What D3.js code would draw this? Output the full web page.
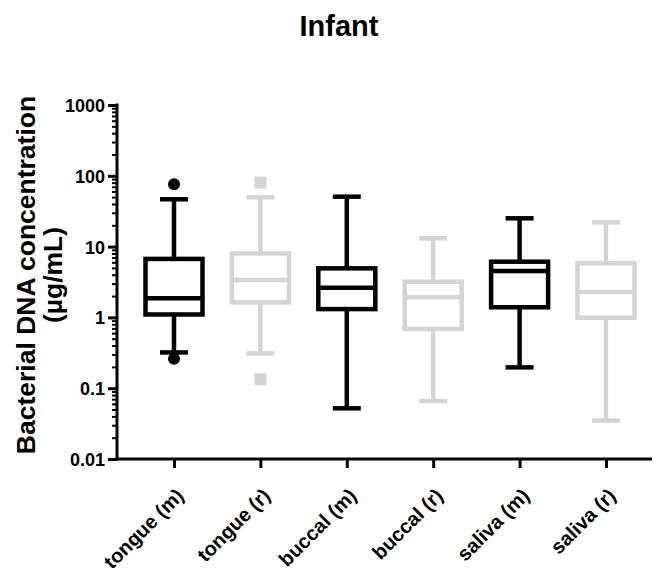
<!DOCTYPE html>
<html>
<head>
<meta charset="utf-8">
<script src="https://cdn.jsdelivr.net/npm/d3@7"></script>
<style>
  html, body { margin: 0; padding: 0; background: #fff; }
  svg text { font-family: "Liberation Sans", Arial, sans-serif; font-weight: bold; fill: #000; }
</style>
</head>
<body>
<svg id="chart" width="660" height="575"></svg>
<script>
// Sample sites (m / r) and their box-plot summaries, µg/mL
const categories = ["tongue (m)", "tongue (r)", "buccal (m)", "buccal (r)", "saliva (m)", "saliva (r)"];
const whiskerLow  = [0.32, 0.31, 0.052, 0.066, 0.197, 0.035];
const q1          = [1.10, 1.63, 1.31, 0.686, 1.39, 0.99];
const median      = [1.86, 3.37, 2.63, 1.92, 4.52, 2.28];
const q3          = [6.7, 8.0, 4.93, 3.19, 6.12, 5.81];
const whiskerHigh = [46.6, 49.7, 50.7, 13.1, 25.1, 22.0];
const outliers    = [[76, 0.26], [80, 0.134], [], [], [], []];
const seriesColor = ["#000000", "#d4d4d4", "#000000", "#d4d4d4", "#000000", "#d4d4d4"];
const markerShape = ["circle", "square", "circle", "square", "circle", "square"];

const yTickValues = [0.01, 0.1, 1, 10, 100, 1000];
const yTickLabels = ["0.01", "0.1", "1", "10", "100", "1000"];

const svg = d3.select("#chart");

const plot = { left: 117, right: 652, top: 105, bottom: 459 };

const x = d3.scalePoint().domain(categories).range([174, 606]);
const y = d3.scaleLog().domain([0.01, 1000]).range([plot.bottom, plot.top]);

// Title
svg.append("text")
  .attr("x", 339).attr("y", 36)
  .attr("text-anchor", "middle")
  .style("font-size", "29px")
  .text("Infant");

// Y axis title (two lines)
const yTitle = svg.append("text")
  .attr("transform", `translate(35, ${(plot.top + plot.bottom) / 2 - 7}) rotate(-90)`)
  .attr("text-anchor", "middle")
  .style("font-size", "26.5px");
yTitle.append("tspan").attr("x", 0).attr("dy", 0).text("Bacterial DNA concentration");
yTitle.append("tspan").attr("x", 0).attr("dy", "1.0em").text("(µg/mL)");

// Minor log ticks
const minorTicks = [];
for (let e = -2; e < 3; e++) {
  for (let m = 2; m <= 9; m++) minorTicks.push(m * Math.pow(10, e));
}
const minorAxis = svg.append("g")
  .attr("transform", `translate(${plot.left},0)`)
  .call(d3.axisLeft(y).tickValues(minorTicks).tickSize(5).tickFormat(""));
minorAxis.select(".domain").remove();
minorAxis.selectAll(".tick line").attr("stroke", "#000").attr("stroke-width", 2);

// Major ticks and labels
const yAxis = svg.append("g")
  .attr("transform", `translate(${plot.left},0)`)
  .call(d3.axisLeft(y).tickValues(yTickValues).tickSize(9).tickPadding(3)
    .tickFormat((d, i) => yTickLabels[i]));
yAxis.select(".domain").remove();
yAxis.selectAll(".tick line").attr("stroke", "#000").attr("stroke-width", 3);
yAxis.selectAll(".tick text").style("font-size", "18px").attr("dy", "0.36em");

// X axis
const xAxis = svg.append("g")
  .attr("transform", `translate(0,${plot.bottom})`)
  .call(d3.axisBottom(x).tickSize(9).tickFormat(""));
xAxis.select(".domain").remove();
xAxis.selectAll(".tick line").attr("stroke", "#000").attr("stroke-width", 3);

svg.append("line")
  .attr("x1", plot.left).attr("x2", plot.right)
  .attr("y1", plot.bottom).attr("y2", plot.bottom)
  .attr("stroke", "#000").attr("stroke-width", 3);
svg.append("line")
  .attr("x1", plot.left).attr("x2", plot.left)
  .attr("y1", plot.top - 1.5).attr("y2", plot.bottom + 1.5)
  .attr("stroke", "#000").attr("stroke-width", 3);

// Category labels, rotated
svg.append("g").selectAll("text")
  .data(categories)
  .join("text")
  .attr("transform", d => `translate(${x(d) + 11}, ${plot.bottom + 38}) rotate(-45)`)
  .attr("text-anchor", "end")
  .style("font-size", "20px")
  .text(d => d);

// Boxes
const boxW = 57, capW = 28, sw = 4.5;
const boxes = svg.append("g").selectAll("g")
  .data(categories)
  .join("g")
  .attr("stroke", (d, i) => seriesColor[i])
  .attr("fill", "none")
  .attr("stroke-width", sw);

boxes.each(function (d, i) {
  const g = d3.select(this);
  const cx = x(d);
  // whiskers
  g.append("line").attr("x1", cx).attr("x2", cx).attr("y1", y(q3[i])).attr("y2", y(whiskerHigh[i]));
  g.append("line").attr("x1", cx).attr("x2", cx).attr("y1", y(q1[i])).attr("y2", y(whiskerLow[i]));
  g.append("line").attr("x1", cx - capW / 2).attr("x2", cx + capW / 2)
    .attr("y1", y(whiskerHigh[i])).attr("y2", y(whiskerHigh[i]));
  g.append("line").attr("x1", cx - capW / 2).attr("x2", cx + capW / 2)
    .attr("y1", y(whiskerLow[i])).attr("y2", y(whiskerLow[i]));
  // box
  g.append("rect")
    .attr("x", cx - boxW / 2).attr("width", boxW)
    .attr("y", y(q3[i])).attr("height", y(q1[i]) - y(q3[i]))
    .attr("fill", "#fff");
  g.append("line").attr("x1", cx - boxW / 2).attr("x2", cx + boxW / 2)
    .attr("y1", y(median[i])).attr("y2", y(median[i]));
  // outlying points
  outliers[i].forEach(v => {
    if (markerShape[i] === "circle") {
      g.append("circle").attr("cx", cx).attr("cy", y(v)).attr("r", 6)
        .attr("fill", seriesColor[i]).attr("stroke", "none");
    } else {
      g.append("rect").attr("x", cx - 6).attr("y", y(v) - 6).attr("width", 12).attr("height", 12)
        .attr("fill", seriesColor[i]).attr("stroke", "none");
    }
  });
});
</script>
</body>
</html>
